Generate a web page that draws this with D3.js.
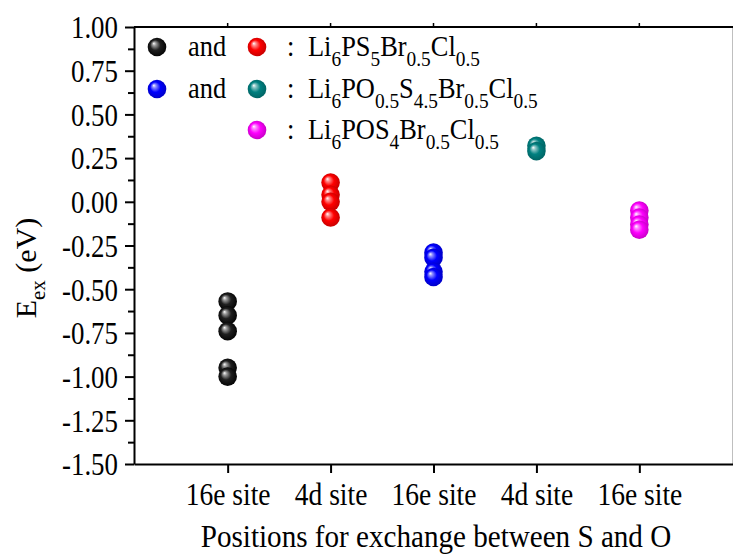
<!DOCTYPE html>
<html>
<head>
<meta charset="utf-8">
<script src="https://cdn.jsdelivr.net/npm/d3@7"></script>
<style>
  body { margin: 0; background: #fff; }
  svg { display: block; }
  svg text { font-family: "Liberation Serif", "Times New Roman", Tinos !important; fill: #000; }
</style>
</head>
<body>
<svg id="chart" width="733" height="554"></svg>
<script>
// Exchange sites along the x axis
const siteLabels = ["16e site", "4d site", "16e site", "4d site", "16e site"];
const sitePositions = [1, 2, 3, 4, 5];

// Energy axis ticks (eV)
const yMajorTicks = [1.00, 0.75, 0.50, 0.25, 0.00, -0.25, -0.50, -0.75, -1.00, -1.25, -1.50];
const yMinorTicks = [0.875, 0.625, 0.375, 0.125, -0.125, -0.375, -0.625, -0.875, -1.125, -1.375];

// Exchange energies E_ex (eV) for each site group
const blackValues   = [-0.57, -0.65, -0.74, -0.95, -1.00];
const redValues     = [0.11, 0.04, 0.00, -0.09];
const blueValues    = [-0.29, -0.32, -0.40, -0.43];
const tealValues    = [0.32, 0.29];
const magentaValues = [-0.05, -0.09, -0.13, -0.16];

const groupNames  = ["black", "red", "blue", "teal", "magenta"];
const groupColors = ["#000000", "#ff0000", "#0000ff", "#008080", "#ff00ff"];
const groupValues = [blackValues, redValues, blueValues, tealValues, magentaValues];

// Legend composition strings: [text, subscript?]
const legendFormulas = [
  [["Li", false], ["6", true], ["PS", false], ["5", true], ["Br", false], ["0.5", true], ["Cl", false], ["0.5", true]],
  [["Li", false], ["6", true], ["PO", false], ["0.5", true], ["S", false], ["4.5", true], ["Br", false], ["0.5", true], ["Cl", false], ["0.5", true]],
  [["Li", false], ["6", true], ["POS", false], ["4", true], ["Br", false], ["0.5", true], ["Cl", false], ["0.5", true]]
];

const svg = d3.select("#chart");
const plotLeft = 134, plotRight = 733, plotTop = 27, plotBottom = 464;

const x = d3.scaleLinear().domain([0.09, 5.91]).range([plotLeft, plotRight]);
const y = d3.scaleLinear().domain([-1.5, 1.0]).range([plotBottom, plotTop]);

// Shaded-sphere gradients
const defs = svg.append("defs");
function shade(hex, k) {
  const c = d3.rgb(hex);
  return k >= 0 ? d3.interpolateRgb(c, "#ffffff")(k) : d3.interpolateRgb(c, "#000000")(-k);
}
groupNames.forEach((name, i) => {
  const col = groupColors[i];
  const g = defs.append("radialGradient")
    .attr("id", "ball-" + name)
    .attr("cx", "50%").attr("cy", "50%").attr("r", "55%")
    .attr("fx", "32%").attr("fy", "30%");
  const stops = name === "black"
    ? [[0, "#ffffff"], [0.18, "#9a9a9a"], [0.5, "#202020"], [1, "#000000"]]
    : [[0, "#ffffff"], [0.18, shade(col, 0.55)], [0.5, col], [1, shade(col, -0.25)]];
  stops.forEach(s => g.append("stop").attr("offset", s[0]).attr("stop-color", s[1]));
});

// Frame: top and right edges
svg.append("line").attr("x1", plotLeft).attr("x2", plotRight).attr("y1", plotTop).attr("y2", plotTop)
  .attr("stroke", "#000").attr("stroke-width", 2);
svg.append("line").attr("x1", plotRight + 0.5).attr("x2", plotRight + 0.5).attr("y1", plotTop).attr("y2", plotBottom)
  .attr("stroke", "#000").attr("stroke-width", 1.5);
// small top ticks at the site positions
svg.append("g").selectAll("line").data(sitePositions).join("line")
  .attr("x1", d => x(d)).attr("x2", d => x(d))
  .attr("y1", plotTop).attr("y2", plotTop - 4)
  .attr("stroke", "#000").attr("stroke-width", 1.5);

// Left axis: minor ticks then major ticks
svg.append("g").attr("transform", `translate(${plotLeft},0)`)
  .call(d3.axisLeft(y).tickValues(yMinorTicks).tickSize(6).tickFormat(""))
  .call(g => g.select(".domain").remove())
  .call(g => g.selectAll("line").attr("stroke-width", 2));

const yAxis = svg.append("g").attr("transform", `translate(${plotLeft},0)`)
  .call(d3.axisLeft(y).tickValues(yMajorTicks).tickSize(9).tickSizeOuter(0)
    .tickFormat(d => d.toFixed(2)));
yAxis.attr("font-family", null);
yAxis.select(".domain").attr("stroke-width", 2);
yAxis.selectAll("line").attr("stroke-width", 2);
yAxis.selectAll("text")
  .attr("x", 0).attr("dy", "0.34em")
  .attr("transform", "translate(-16,0) scale(0.84,1)")
  .style("font-size", "32px");

// Bottom axis
const xAxis = svg.append("g").attr("transform", `translate(0,${plotBottom})`)
  .call(d3.axisBottom(x).tickValues(sitePositions).tickSize(9).tickSizeOuter(0)
    .tickFormat(d => siteLabels[d - 1]));
xAxis.attr("font-family", null);
xAxis.select(".domain").attr("stroke-width", 2);
xAxis.selectAll("line").attr("stroke-width", 2);
xAxis.selectAll("text")
  .attr("y", 0).attr("dy", 0)
  .attr("transform", "translate(0,41) scale(0.86,1)")
  .style("font-size", "32px");

// Axis titles
svg.append("text")
  .attr("transform", `translate(436,547) scale(0.91,1)`)
  .attr("text-anchor", "middle")
  .style("font-size", "32px")
  .text("Positions for exchange between S and O");

const yTitle = svg.append("text")
  .attr("transform", "translate(36,268) rotate(-90)")
  .attr("text-anchor", "middle")
  .style("font-size", "30px");
yTitle.append("tspan").text("E");
yTitle.append("tspan").attr("dy", 9).style("font-size", "21px").text("ex");
yTitle.append("tspan").attr("dy", -9).text(" (eV)");

// Data spheres
const R = 9.3;
groupValues.forEach((vals, i) => {
  svg.append("g").selectAll("circle").data(vals).join("circle")
    .attr("cx", x(sitePositions[i]))
    .attr("cy", d => y(d))
    .attr("r", R)
    .attr("fill", `url(#ball-${groupNames[i]})`);
});

// Legend
const rowY = [47, 89, 130];
const legendBalls = [
  { name: "black", cx: 157, row: 0 }, { name: "red", cx: 257, row: 0 },
  { name: "blue", cx: 157, row: 1 }, { name: "teal", cx: 257, row: 1 },
  { name: "magenta", cx: 257, row: 2 }
];
svg.append("g").selectAll("circle").data(legendBalls).join("circle")
  .attr("cx", d => d.cx).attr("cy", d => rowY[d.row]).attr("r", R)
  .attr("fill", d => `url(#ball-${d.name})`);

[0, 1].forEach(r => {
  svg.append("text")
    .attr("transform", `translate(188,${rowY[r] + 9}) scale(0.88,1)`)
    .style("font-size", "30px").text("and");
});
legendFormulas.forEach((parts, r) => {
  svg.append("text")
    .attr("transform", `translate(287,${rowY[r] + 9}) scale(0.88,1)`)
    .style("font-size", "30px").text(":");
  const t = svg.append("text")
    .attr("transform", `translate(308,${rowY[r] + 9}) scale(0.88,1)`)
    .style("font-size", "30px");
  let sub = false;
  parts.forEach(([s, isSub]) => {
    const dy = isSub === sub ? 0 : (isSub ? 10 : -10);
    t.append("tspan").attr("dy", dy)
      .style("font-size", isSub ? "22px" : "30px")
      .text(s);
    sub = isSub;
  });
});
</script>
</body>
</html>
